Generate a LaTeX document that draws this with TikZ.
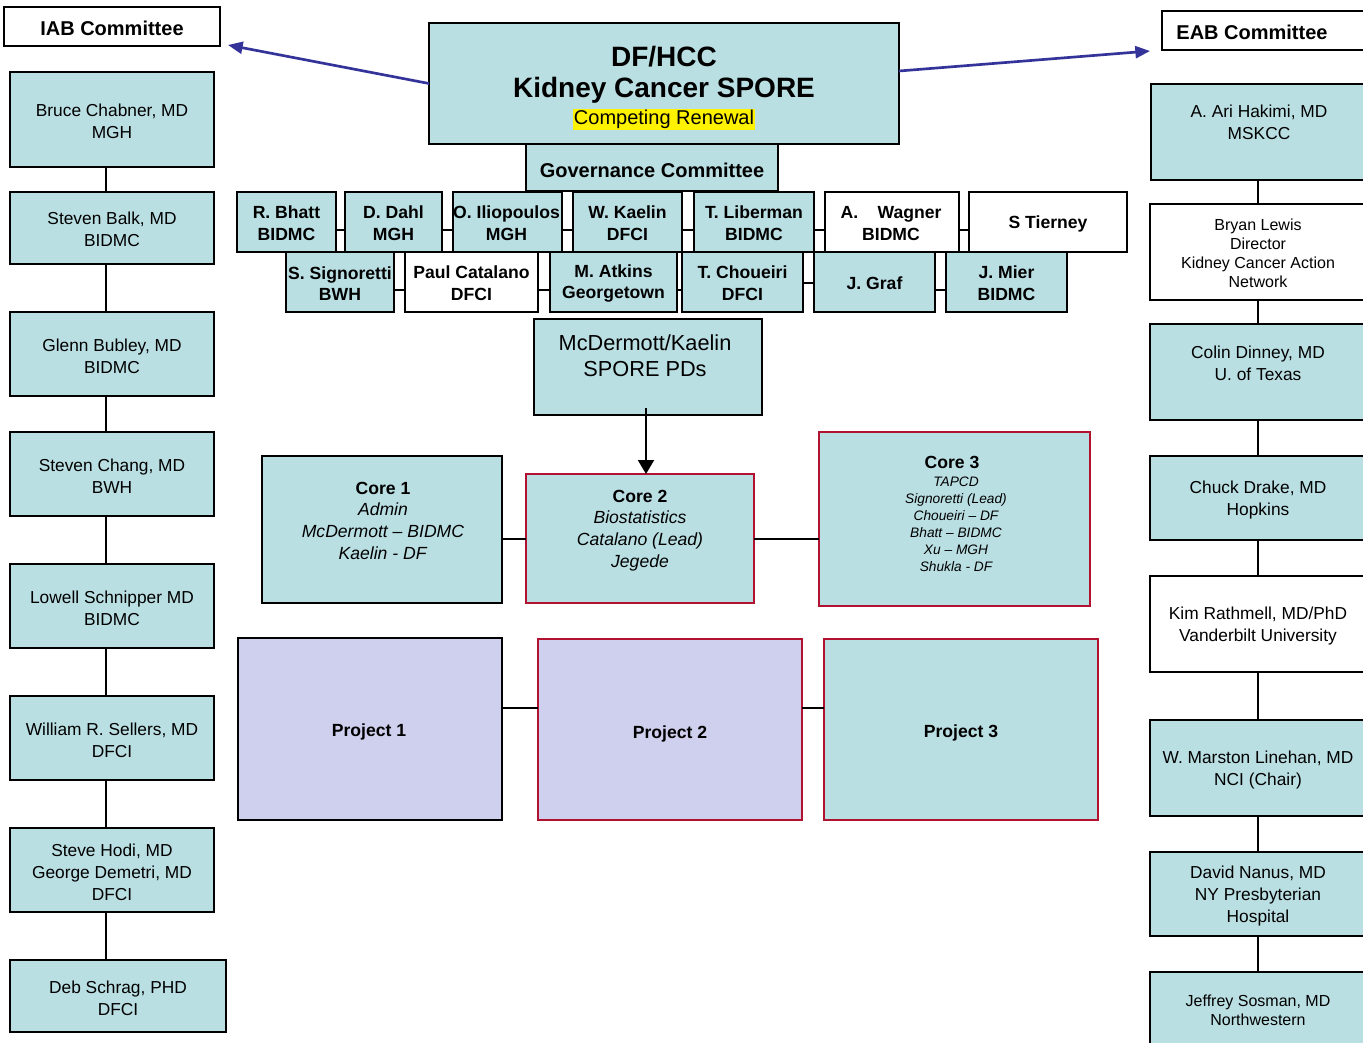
\documentclass[tikz,border=0pt]{standalone}
\usepackage{fontspec}
\setmainfont{Liberation Sans}
\usetikzlibrary{arrows.meta}
\definecolor{lb}{RGB}{186,223,227}
\definecolor{lav}{RGB}{206,208,238}
\definecolor{dred}{RGB}{176,18,48}
\definecolor{ablue}{RGB}{51,51,153}
% name, x1, y1, x2, y2, box style, text position, text style, text
\newcommand{\pbox}[9]{%
  \node[#6, minimum width={(#4-#2)*0.75pt}, minimum height={(#5-#3)*0.75pt}] (#1) at ({(#2+#4)/2},{(#3+#5)/2}) {};
  \node[#8, yshift=-1.1pt] (#1-t) at (#7) {#9};}
\begin{document}
\begin{tikzpicture}[x=0.75pt,y=-0.75pt,
  box/.style={draw=black, line width=1.5pt, fill=lb, inner sep=0pt, outer sep=0pt},
  wbox/.style={box, fill=white},
  rbox/.style={box, draw=dred},
  lbox/.style={box, fill=lav},
  lrbox/.style={box, fill=lav, draw=dred},
  conn/.style={draw=black, line width=1.5pt},
  barrow/.style={draw=ablue, line width=2pt, -{Triangle[length=11pt,width=9pt]}},
  karrow/.style={draw=black, line width=1.5pt, -{Triangle[length=10.5pt,width=12pt]}},
  tN/.style={font=\fontsize{13}{16.5}\selectfont, align=center, inner sep=0pt},
  tS/.style={font=\fontsize{12}{14.25}\selectfont, align=center, inner sep=0pt},
  tH/.style={font=\fontsize{15}{18}\selectfont\bfseries, align=center, inner sep=0pt},
  tM/.style={font=\fontsize{13.2}{16.2}\selectfont\bfseries, align=center, inner sep=0pt},
  tL/.style={font=\fontsize{16.3}{19.5}\selectfont, align=center, inner sep=0pt},
  tC/.style={font=\fontsize{13.2}{16.25}\selectfont, align=center, inner sep=0pt},
  tCS/.style={font=\fontsize{10.3}{12.75}\selectfont\itshape, align=center, inner sep=0pt},
  tP/.style={font=\fontsize{13.2}{16}\selectfont\bfseries, align=center, inner sep=0pt}]
\path[use as bounding box, fill=white] (0,0) rectangle (1363,1042);

% ---------- left column (IAB) ----------
\pbox{iab}{4}{7}{220}{46}{wbox}{112,27}{tH}{IAB Committee}
\pbox{l1}{10}{72}{214}{167}{box}{112,120}{tN}{Bruce Chabner, MD\\MGH}
\pbox{l2}{10}{192}{214}{264}{box}{112,228}{tN}{Steven Balk, MD\\BIDMC}
\pbox{l3}{10}{312}{214}{396}{box}{112,355}{tN}{Glenn Bubley, MD\\BIDMC}
\pbox{l4}{10}{432}{214}{516}{box}{112,475}{tN}{Steven Chang, MD\\BWH}
\pbox{l5}{10}{564}{214}{648}{box}{112,607}{tN}{Lowell Schnipper MD\\BIDMC}
\pbox{l6}{10}{696}{214}{780}{box}{112,739}{tN}{William R. Sellers, MD\\DFCI}
\pbox{l7}{10}{828}{214}{912}{box}{112,871}{tN}{Steve Hodi, MD\\George Demetri, MD\\DFCI}
\pbox{l8}{10}{960}{226}{1032}{box}{118,997}{tN}{Deb Schrag, PHD\\DFCI}

% ---------- right column (EAB) ----------
\pbox{eab}{1162}{11}{1367}{50}{wbox}{1252,31}{tH}{EAB Committee}
\pbox{r1}{1151}{84}{1367}{180}{box}{1259,121}{tN}{A. Ari Hakimi, MD\\MSKCC}
\pbox{r2}{1150}{204}{1367}{300}{wbox}{1258,252}{tS}{Bryan Lewis\\Director\\Kidney Cancer Action\\Network}
\pbox{r3}{1150}{324}{1367}{420}{box}{1258,362}{tN}{Colin Dinney, MD\\U. of Texas}
\pbox{r4}{1150}{456}{1367}{540}{box}{1258,499}{tN}{Chuck Drake, MD\\Hopkins}
\pbox{r5}{1150}{576}{1367}{672}{wbox}{1258,625}{tN}{Kim Rathmell, MD/PhD\\Vanderbilt University}
\pbox{r6}{1150}{720}{1367}{816}{box}{1258,769}{tN}{W. Marston Linehan, MD\\NCI (Chair)}
\pbox{r7}{1150}{852}{1367}{936}{box}{1258,895}{tN}{David Nanus, MD\\NY Presbyterian\\Hospital}
\pbox{r8}{1150}{972}{1367}{1062}{box}{1258,1009}{tS}{Jeffrey Sosman, MD\\Northwestern}

% ---------- centre: title and governance ----------
\node[box, minimum width={470*0.75pt}, minimum height={121*0.75pt}] (main) at (664,83.5) {};
\node[font=\fontsize{21}{24}\selectfont\bfseries, inner sep=0pt] (title1) at (664,57) {DF/HCC};
\node[font=\fontsize{21}{24}\selectfont\bfseries, inner sep=0pt] (title2) at (664,90.5) {Kidney Cancer SPORE};
\node[font=\fontsize{15}{18}\selectfont, fill=yellow, inner xsep=0.5pt, inner ysep=0pt, minimum height=15.75pt] (title3) at (664,119) {Competing Renewal};
\pbox{gov}{526}{144}{778}{191}{box}{652,169}{tH}{Governance Committee}

% row 1
\pbox{bhatt}{237}{192}{336}{252}{box}{286.5,222}{tM}{R. Bhatt\\BIDMC}
\pbox{dahl}{345}{192}{442}{252}{box}{393.5,222}{tM}{D. Dahl\\MGH}
\pbox{ilio}{453}{192}{562}{252}{box}{506.5,222}{tM}{O. Iliopoulos\\MGH}
\pbox{kaelin}{573}{192}{682}{252}{box}{627.5,222}{tM}{W. Kaelin\\DFCI}
\pbox{liber}{694}{192}{814}{252}{box}{754,222}{tM}{T. Liberman\\BIDMC}
\pbox{wagner}{825}{192}{959}{252}{wbox}{891,222}{tM}{A.\hspace{1.1em}Wagner\\BIDMC}
\pbox{tierney}{969}{192}{1127}{252}{wbox}{1048,222}{tM}{S Tierney}
% row 2
\pbox{signo}{286}{252}{394}{312}{box}{340,282}{tM}{S. Signoretti\\BWH}
\pbox{catal}{405}{252}{538}{312}{wbox}{471.5,282}{tM}{Paul Catalano\\DFCI}
\pbox{atkins}{550}{252}{677}{312}{box}{613.5,282}{tM}{M. Atkins\\Georgetown}
\pbox{chou}{682}{252}{803}{312}{box}{742.5,282}{tM}{T. Choueiri\\DFCI}
\pbox{graf}{814}{252}{935}{312}{box}{874.5,282}{tM}{J. Graf}
\pbox{mier}{946}{252}{1067}{312}{box}{1006.5,282}{tM}{J. Mier\\BIDMC}

% PDs and cores
\pbox{mcd}{534}{319}{762}{415}{box}{645,354}{tL}{McDermott/Kaelin\\SPORE PDs}
\pbox{core1}{262}{456}{502}{603}{box}{383,519}{tC}{\textbf{Core 1}\\\textit{Admin}\\\textit{McDermott – BIDMC}\\\textit{Kaelin - DF}}
\pbox{core2}{526}{474}{754}{603}{rbox}{640,529}{tC}{\textbf{Core 2}\\\textit{Biostatistics}\\\textit{Catalano (Lead)}\\\textit{Jegede}}
\pbox{core3}{819}{432}{1090}{606}{rbox}{956,522.5}{tCS}{TAPCD\\Signoretti (Lead)\\Choueiri – DF\\Bhatt – BIDMC\\Xu – MGH\\Shukla - DF}
\node[tC, font=\fontsize{13.2}{16.25}\selectfont\bfseries, yshift=-1.1pt] (core3-h) at (952,461) {Core 3};

% projects
\pbox{p1}{238}{638}{502}{820}{lbox}{369,730}{tP}{Project 1}
\pbox{p2}{538}{639}{802}{820}{lrbox}{670,732}{tP}{Project 2}
\pbox{p3}{824}{639}{1098}{820}{rbox}{961,731}{tP}{Project 3}

% ---------- connectors ----------
\coordinate (cl) at (106,0);
\coordinate (cr) at (1258,0);
\foreach \a/\b in {l1/l2,l2/l3,l3/l4,l4/l5,l5/l6,l6/l7,l7/l8}
  \draw[conn] (\a.south -| cl) -- (\b.north -| cl);
\foreach \a/\b in {r1/r2,r2/r3,r3/r4,r4/r5,r5/r6,r6/r7,r7/r8}
  \draw[conn] (\a.south -| cr) -- (\b.north -| cr);

\coordinate (ya) at (0,230);
\foreach \a/\b in {bhatt/dahl,dahl/ilio,ilio/kaelin,kaelin/liber,liber/wagner,wagner/tierney}
  \draw[conn] (\a.east |- ya) -- (\b.west |- ya);
\coordinate (yb) at (0,290);
\coordinate (yc) at (0,283);
\foreach \a/\b in {signo/catal,catal/atkins,atkins/chou,graf/mier}
  \draw[conn] (\a.east |- yb) -- (\b.west |- yb);
\draw[conn] (chou.east |- yc) -- (graf.west |- yc);

\coordinate (ycore) at (0,539);
\draw[conn] (core1.east |- ycore) -- (core2.west |- ycore);
\draw[conn] (core2.east |- ycore) -- (core3.west |- ycore);
\coordinate (yproj) at (0,708);
\draw[conn] (p1.east |- yproj) -- (p2.west |- yproj);
\draw[conn] (p2.east |- yproj) -- (p3.west |- yproj);

\coordinate (arrstart) at (646,408);
\draw[karrow] (arrstart) -- (core2.north -| arrstart);

\coordinate (iabtip) at (228,45);
\draw[barrow] (main.west) -- (iabtip);
\coordinate (ye) at (0,71);
\coordinate (eabtip) at (1150,51);
\draw[barrow] (main.east |- ye) -- (eabtip);
\end{tikzpicture}
\end{document}
